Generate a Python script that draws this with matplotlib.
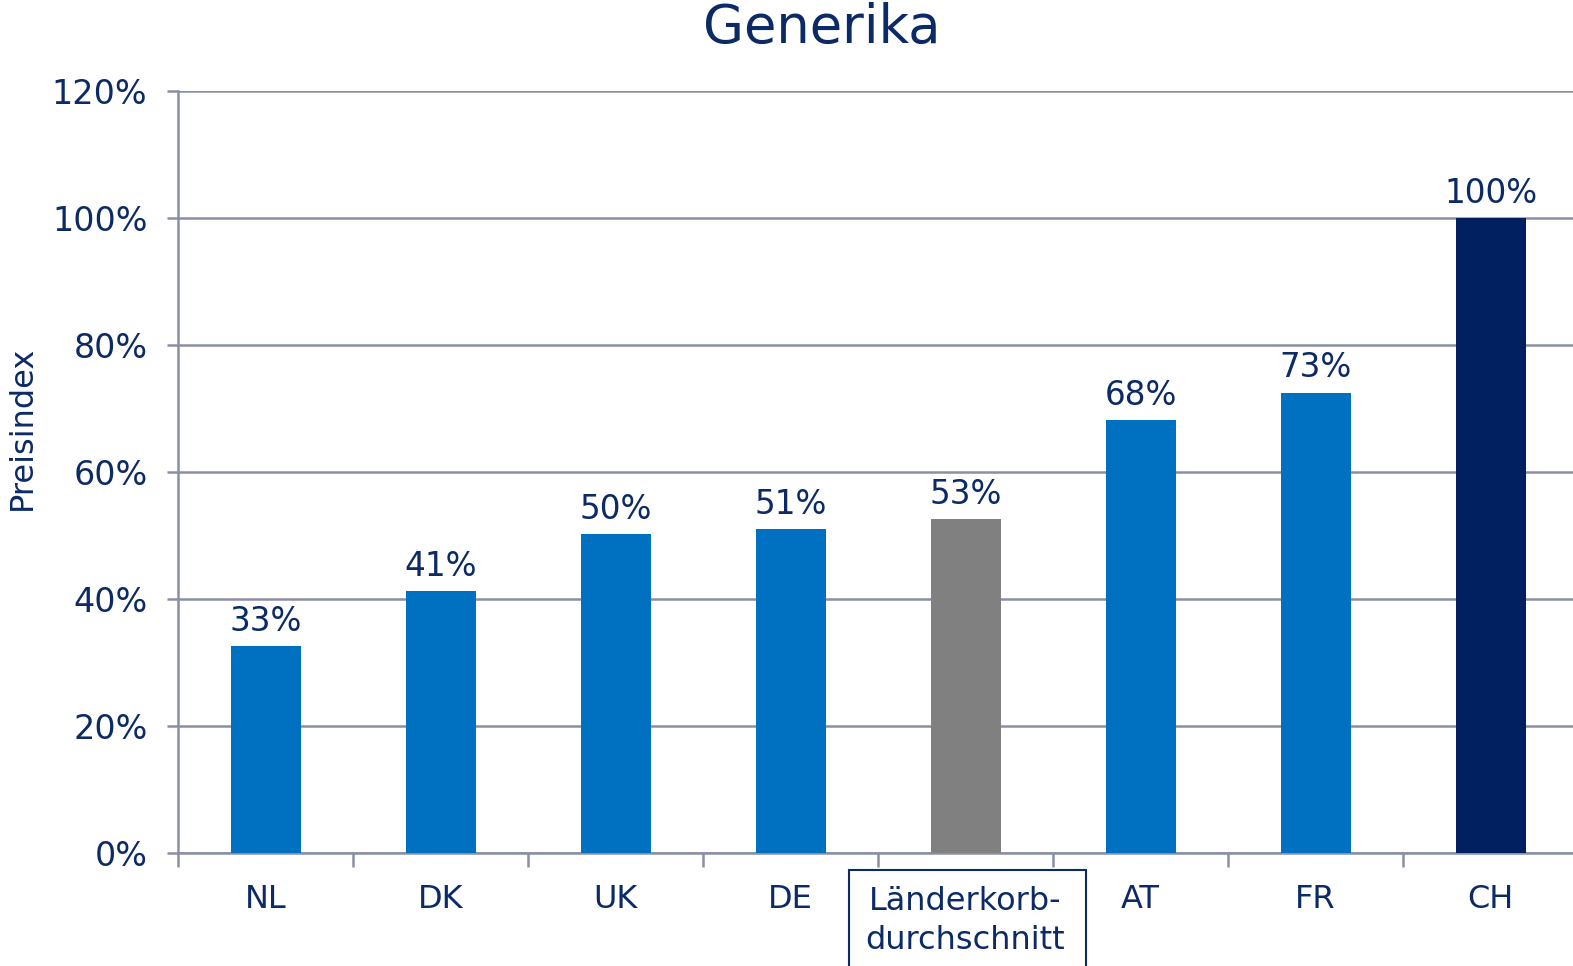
import matplotlib
matplotlib.use("Agg")
import matplotlib.pyplot as plt
from matplotlib.patches import Rectangle
import numpy as np

categories = ["NL", "DK", "UK", "DE", "Länderkorb-\ndurchschnitt", "AT", "FR", "CH"]
values = [32.6, 41.2, 50.2, 51.0, 52.6, 68.2, 72.5, 100.0]
labels = ["33%", "41%", "50%", "51%", "53%", "68%", "73%", "100%"]
colors = ["#0070C0", "#0070C0", "#0070C0", "#0070C0", "#808080", "#0070C0", "#0070C0", "#002060"]
yticks = [0, 20, 40, 60, 80, 100, 120]

txt = "#0B2A66"
grid = "#8A8FA3"
plt.rcParams['font.family'] = ['DejaVu Sans']

fig = plt.figure(figsize=(15.73, 9.66), dpi=100)
W, H = 1573, 966
ax = fig.add_axes([178 / W, 1 - 853 / H, 1400 / W, (853 - 91) / H])

x = np.arange(len(categories))
ax.bar(x, values, width=0.4, color=colors, zorder=3)
for xi, v, lab in zip(x, values, labels):
    ax.annotate(lab, (xi, v), xytext=(0, 6), textcoords="offset points",
                ha="center", va="bottom", fontsize=23.5, color=txt)

ax.set_xlim(-0.5, 7.5)
ax.set_ylim(0, 120)
ax.set_yticks(yticks)
ax.set_yticklabels([f"{t}%" for t in yticks], fontsize=24, color=txt)
ax.yaxis.grid(True, color=grid, linewidth=1.8, zorder=0)
ax.set_axisbelow(True)
ax.tick_params(axis="y", length=8, width=1.8, color=grid, pad=14)

ax.set_xticks(np.arange(-0.5, 7.5, 1.0))
ax.set_xticklabels([])
ax.tick_params(axis="x", which="major", length=10, width=1.8, color=grid, direction="out")
ax.set_xticks(x, minor=True)
ax.set_xticklabels(["" if "\n" in c else c for c in categories], minor=True, fontsize=23, color=txt)
ax.tick_params(axis="x", which="minor", length=0, pad=22)

for s in ["top", "right"]:
    ax.spines[s].set_visible(False)
for s in ["left", "bottom"]:
    ax.spines[s].set_color(grid)
    ax.spines[s].set_linewidth(1.8)

# boxed two-line category
idx = categories.index("Länderkorb-\ndurchschnitt")
ax.annotate(categories[idx], (idx, 0), xycoords=("data", "axes fraction"),
            xytext=(0, -24), textcoords="offset points", ha="center", va="top",
            fontsize=23, color=txt, linespacing=1.3, annotation_clip=False)
fig.patches.append(Rectangle((849 / W, -0.02), (1086 - 849) / W, 0.02 + 1 - 870 / H,
                             transform=fig.transFigure, fill=False,
                             edgecolor=txt, linewidth=1.5))

ax.set_ylabel("Preisindex", fontsize=23, color=txt)
ax.yaxis.set_label_coords(-0.1, 0.558)
fig.text(822 / W, 1 - 28 / H, "Generika", ha="center", va="center", fontsize=38, color=txt)

fig.savefig("out.png", dpi=100)
